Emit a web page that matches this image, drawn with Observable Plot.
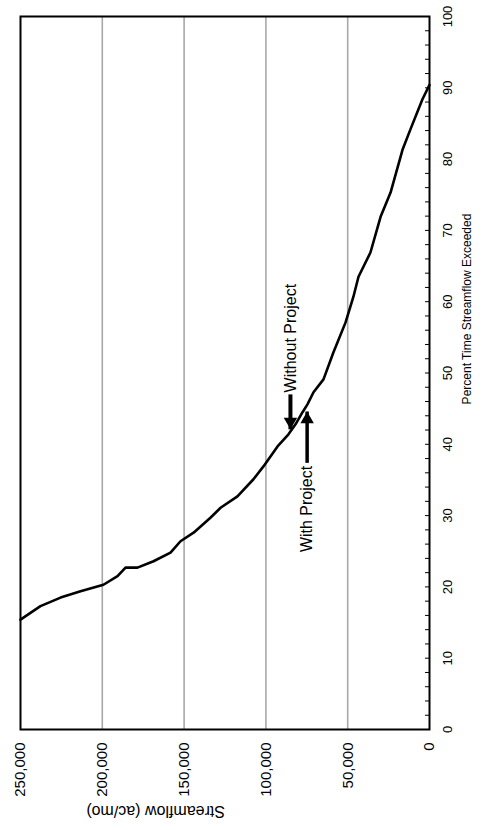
<!DOCTYPE html>
<html>
<head>
<meta charset="utf-8">
<script src="https://cdn.jsdelivr.net/npm/d3@7"></script>
<script src="https://cdn.jsdelivr.net/npm/@observablehq/plot@0.6"></script>
<style>
  html, body { margin: 0; padding: 0; background: #fff; overflow: hidden; }
  #page { position: relative; width: 485px; height: 830px; overflow: hidden; background: #fff; }
  #chart { position: absolute; left: 0; top: 0; width: 830px; height: 485px;
           transform-origin: 0 0; transform: translate(0px, 830px) rotate(-90deg); }
</style>
</head>
<body>
<div id="page"><div id="chart"></div></div>
<script>
// Flow-duration curve
const percentExceeded = [15.4,17.3,18.5,19.4,20.3,21.5,22.7,22.7,23.6,24.8,26.4,27.6,29.7,31.1,32.7,35.1,36.9,39.7,41.4,42.8,44.5,45.6,47.3,49.1,52.9,57.1,60.7,63.5,66.9,71.9,75.3,81.3,84.2,88.4,90.4];
const streamflow = [250000,237800,225500,213300,199300,190700,185800,178500,168700,158300,152200,144200,133900,127700,117400,107600,101500,92900,86200,81900,77600,74600,70900,64800,58700,51300,46500,43400,36100,29900,23800,16500,11600,4300,0];

const percentTicks = [0,10,20,30,40,50,60,70,80,90,100];
const percentMinorTicks = d3.range(0, 101, 2);
const streamflowTicks = [0,50000,100000,150000,200000,250000];

const xTitle = "Percent Time Streamflow Exceeded";
const yTitle = "Streamflow (ac/mo)";

// Annotation arrows: label, arrow start / tip (percent), streamflow level
const annotationLabels = ["Without Project", "With Project"];
const annotationFrom = [47.0, 37.4];
const annotationTo = [42.1, 44.6];
const annotationFlow = [85000, 74800];

const curve = percentExceeded.map((p, i) => ({p, q: streamflow[i]}));
const notes = annotationLabels.map((label, i) => ({label, from: annotationFrom[i], to: annotationTo[i], q: annotationFlow[i]}));
const leftNotes = notes.filter(d => d.from > d.to);
const rightNotes = notes.filter(d => d.from < d.to);

const chart = Plot.plot({
  width: 830,
  height: 485,
  marginLeft: 100,
  marginRight: 17,
  marginTop: 20,
  marginBottom: 56,
  style: {fontFamily: "'Liberation Sans', Arial, sans-serif", background: "white", color: "black"},
  x: {domain: [0, 100]},
  y: {domain: [0, 250000]},
  marks: [
    Plot.gridY(streamflowTicks.filter(d => d > 0 && d < 250000), {stroke: "#a8a8a8", strokeOpacity: 1, strokeWidth: 1.6}),
    Plot.axisX(percentTicks, {tickSize: 0, tickPadding: 13, fontSize: 13, label: null}),
    Plot.axisX(percentMinorTicks, {tickSize: -4, text: null, label: null, strokeWidth: 1}),
    Plot.axisY(streamflowTicks, {tickSize: 0, tickPadding: 13, fontSize: 15, tickFormat: d3.format(","), label: null}),
    Plot.line(curve, {x: "p", y: "q", stroke: "black", strokeWidth: 2.6}),
    Plot.link(leftNotes, {x1: "from", y1: "q", x2: "to", y2: "q", stroke: "black", strokeWidth: 4, dx: 0}),
    Plot.link(rightNotes, {x1: "from", y1: "q", x2: "to", y2: "q", stroke: "black", strokeWidth: 3.5}),
    Plot.dot(leftNotes, {x: "to", y: "q", symbol: "triangle", r: 5, fill: "black", stroke: null, rotate: -90, dx: 7.8}),
    Plot.dot(rightNotes, {x: "to", y: "q", symbol: "triangle", r: 5, fill: "black", stroke: null, rotate: 90, dx: -7.8}),
    Plot.text(leftNotes, {x: "from", y: "q", text: "label", textAnchor: "start", dx: 2, fontSize: 16}),
    Plot.text(rightNotes, {x: "from", y: "q", text: "label", textAnchor: "end", dx: -3, fontSize: 16}),
    Plot.text([xTitle], {frameAnchor: "bottom", dx: 64, dy: 41, fontSize: 12}),
    Plot.text([yTitle], {frameAnchor: "left", dx: -82, rotate: -90, fontSize: 16}),
    Plot.frame({stroke: "black", strokeWidth: 2})
  ]
});
document.getElementById("chart").appendChild(chart);
</script>
</body>
</html>
